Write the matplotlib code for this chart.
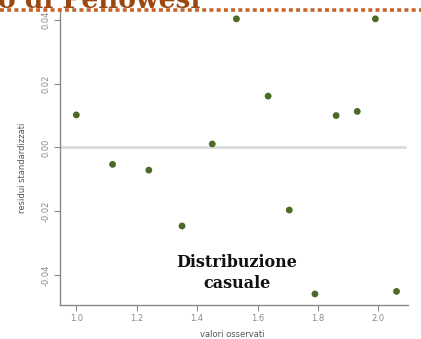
import matplotlib
matplotlib.use("Agg")
import matplotlib.pyplot as plt
from matplotlib.lines import Line2D

# valori osservati e residui standardizzati
valori = [1.00, 1.12, 1.24, 1.35, 1.45, 1.53, 1.635, 1.705, 1.79, 1.86, 1.93, 1.99, 2.06]
residui = [0.0102, -0.0053, -0.0071, -0.0246, 0.0011, 0.0403, 0.0161, -0.0196,
           -0.0459, 0.0100, 0.0113, 0.0403, -0.0451]

x_ticks = [1.0, 1.2, 1.4, 1.6, 1.8, 2.0]
y_ticks = [-0.04, -0.02, 0.00, 0.02, 0.04]

W, H = 421, 339
fig = plt.figure(figsize=(W / 100, H / 100), dpi=100)
fig.patch.set_facecolor("white")

# area del grafico (pixel -> frazioni di figura)
left, right, top, bottom = 60, 408, 8, 304.5
ax = fig.add_axes([left / W, 1 - bottom / H, (right - left) / W, (bottom - top) / H])

ax.set_xlim(0.946, 2.098)
ax.set_ylim(-0.0492, 0.0437)

ax.axhline(0, xmax=0.99, color="#dcdcdc", lw=2, zorder=1)
ax.scatter(valori, residui, s=24, color="#4b6a26", edgecolors="none", zorder=3)

for s in ["top", "right"]:
    ax.spines[s].set_visible(False)
for s in ["left", "bottom"]:
    ax.spines[s].set_color("#8a8a8a")
    ax.spines[s].set_linewidth(1.0)

ax.set_xticks(x_ticks)
ax.set_xticklabels([f"{v:.1f}" for v in x_ticks])
ax.set_yticks(y_ticks)
ax.set_yticklabels([f"{v:.2f}" for v in y_ticks], rotation=90, va="center")
ax.tick_params(axis="both", colors="#8a8a8a", labelcolor="#8a8a8a", labelsize=6,
               length=4, width=0.8, pad=3)

ax.set_xlabel("valori osservati", fontsize=6, color="#555555", labelpad=2)
ax.set_ylabel("residui standardizzati", fontsize=6, color="#555555")
ax.xaxis.set_label_coords((232 - left) / (right - left), -(330 - bottom) / (bottom - top))
ax.yaxis.set_label_coords(-(left - 27) / (right - left), (bottom - 168) / (bottom - top))

ax.text(1.532, -0.0392, "Distribuzione\ncasuale", ha="center", va="center",
        fontsize=11.5, fontweight="bold", family="DejaVu Serif", color="#111111",
        linespacing=1.3, zorder=4)

# titolo della slide, tagliato in alto, e linea tratteggiata
fig.text(-2 / W, 1 - 8 / H, "o di Pellowesi", ha="left", va="baseline",
         fontsize=19, fontweight="bold", family="DejaVu Serif", color="#9a4712")
fig.add_artist(Line2D([0, 1], [1 - 9.5 / H, 1 - 9.5 / H], transform=fig.transFigure,
                      color="#c4652b", lw=2.6, linestyle=(0, (1.1, 0.9))))

fig.savefig("out.png", dpi=100)
